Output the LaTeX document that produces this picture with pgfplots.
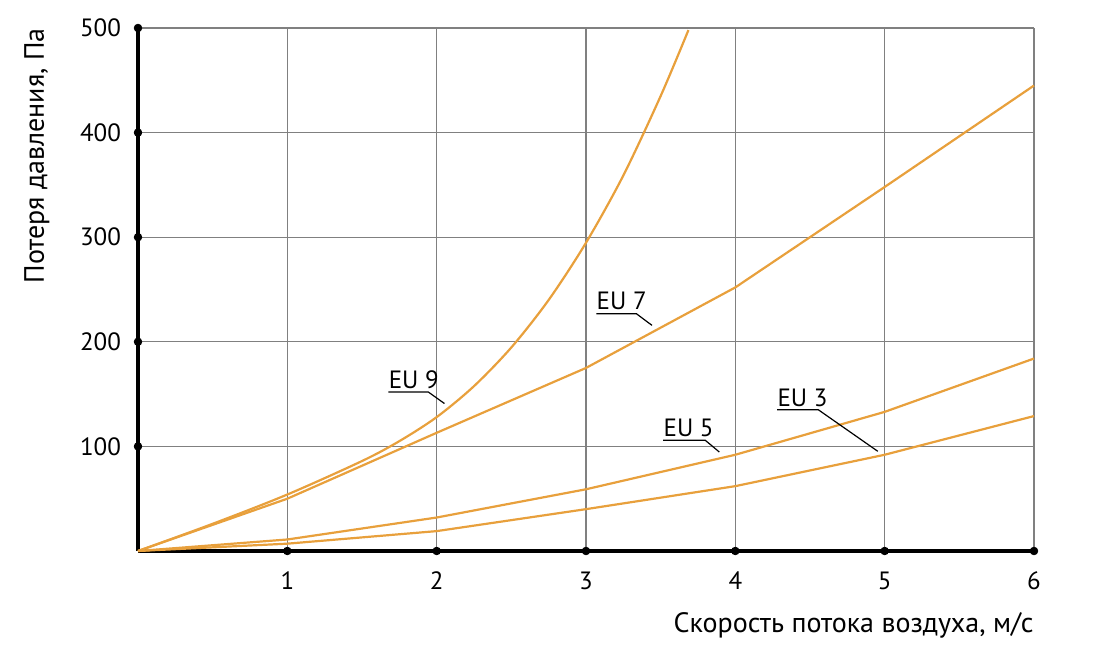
\documentclass[border=0pt]{standalone}
\usepackage{pgfplots}
\pgfplotsset{compat=1.18}
\usepackage{fontspec}
\setmainfont{PT Sans}
\definecolor{curve}{RGB}{232,160,60}
\definecolor{gridc}{RGB}{128,128,128}
\begin{document}
\begin{tikzpicture}
\useasboundingbox (-69pt,-55.5pt) rectangle (482.5pt,275.5pt);
\begin{axis}[
  at={(0,0)}, anchor=origin,
  scale only axis, width=448pt, height=261.5pt,
  xmin=0, xmax=6, ymin=0, ymax=500,
  axis lines=left,
  axis line style={-, line width=1.6pt, black},
  xtick={1,2,3,4,5,6}, ytick={100,200,300,400,500},
  major tick length=0pt,
  grid=major,
  major grid style={gridc, line width=0.65pt},
  /pgf/number format/assume math mode=true,
  ticklabel style={font=\fontsize{12.5pt}{15pt}\selectfont},
  xticklabel style={yshift=-7pt},
  yticklabel style={xshift=-5pt},
  clip=false,
]
\addplot[curve, line width=1.1pt, smooth] coordinates {
 (0,0) (0.5,26) (1,54) (1.5,86) (1.75,105) (2,128) (2.25,157.6) (2.5,194.6) (2.75,240) (3,294.7) (3.25,359) (3.5,435) (3.686,498)};
\addplot[curve, line width=1.1pt] coordinates {
 (0,0) (1,50) (2,113) (3,175) (4,252) (5,348) (6,445)};
\addplot[curve, line width=1.1pt] coordinates {
 (0,0) (1,11) (2,32) (3,59) (4,92) (5,133) (6,184)};
\addplot[curve, line width=1.1pt] coordinates {
 (0,0) (1,7) (2,19) (3,40) (4,62) (5,92) (6,129)};
\addplot[only marks, mark=*, black, mark size=1.9pt] coordinates {
 (1,0) (2,0) (3,0) (4,0) (5,0) (6,0) (0,100) (0,200) (0,300) (0,400) (0,500)};
% labels
\draw[black, line width=0.6pt] (axis cs:1.677,152) -- (axis cs:1.944,152) -- (axis cs:2.052,141);
\node[anchor=base west, inner sep=0pt, font=\fontsize{12.5pt}{15pt}\selectfont] at (axis cs:1.677,155.5) {EU 9};
\draw[black, line width=0.6pt] (axis cs:3.069,226.9) -- (axis cs:3.337,226.9) -- (axis cs:3.442,215.7);
\node[anchor=base west, inner sep=0pt, font=\fontsize{12.5pt}{15pt}\selectfont] at (axis cs:3.069,230.4) {EU 7};
\draw[black, line width=0.6pt] (axis cs:3.517,105.8) -- (axis cs:3.799,105.8) -- (axis cs:3.893,94.6);
\node[anchor=base west, inner sep=0pt, font=\fontsize{12.5pt}{15pt}\selectfont] at (axis cs:3.517,109.3) {EU 5};
\draw[black, line width=0.6pt] (axis cs:4.280,135.1) -- (axis cs:4.555,135.1) -- (axis cs:4.954,95.3);
\node[anchor=base west, inner sep=0pt, font=\fontsize{12.5pt}{15pt}\selectfont] at (axis cs:4.280,138.6) {EU 3};
\end{axis}
\node[rotate=90, anchor=south east, inner sep=0pt, font=\fontsize{14pt}{16pt}\selectfont] at (-44pt,261.5pt) {Потеря давления, Па};
\node[anchor=base east, inner sep=0pt, font=\fontsize{14pt}{16pt}\selectfont] at (448pt,-41pt) {Скорость потока воздуха, м/с};
\end{tikzpicture}
\end{document}
